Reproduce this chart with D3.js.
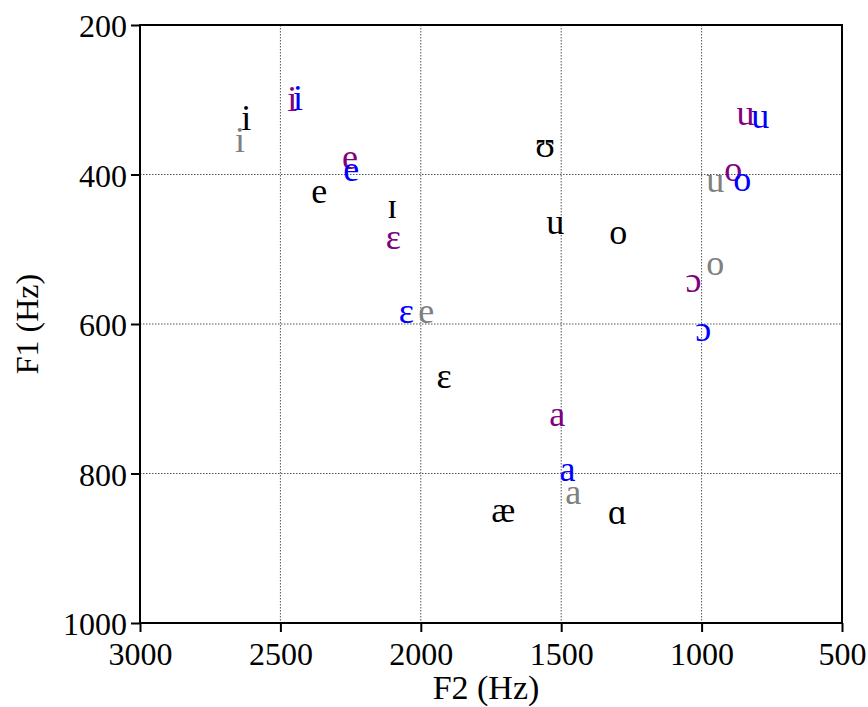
<!DOCTYPE html>
<html>
<head>
<meta charset="utf-8">
<script src="https://cdn.jsdelivr.net/npm/d3@7"></script>
<style>
  body { margin: 0; background: #fff; }
  svg text { font-family: "Liberation Serif", "DejaVu Serif", serif; }
</style>
</head>
<body>
<svg id="chart" width="868" height="707"></svg>
<script>
// ---- data ----
const xTicks = [3000, 2500, 2000, 1500, 1000, 500];
const yTicks = [200, 400, 600, 800, 1000];

const blackVowels = [
  { s: "i", f2: 2622, f1: 330 },
  { s: "e", f2: 2362, f1: 427 },
  { s: "ɪ", f2: 2102, f1: 447 },
  { s: "ʊ", f2: 1557, f1: 365 },
  { s: "u", f2: 1521, f1: 469 },
  { s: "o", f2: 1297, f1: 482 },
  { s: "ɛ", f2: 1917, f1: 675 },
  { s: "æ", f2: 1706, f1: 854 },
  { s: "ɑ", f2: 1300, f1: 857 }
];
const grayVowels = [
  { s: "i", f2: 2644, f1: 359 },
  { s: "e", f2: 1981, f1: 587 },
  { s: "u", f2: 951, f1: 413 },
  { s: "o", f2: 951, f1: 524 },
  { s: "a", f2: 1457, f1: 830 }
];
const purpleVowels = [
  { s: "i", f2: 2458, f1: 304 },
  { s: "e", f2: 2252, f1: 382 },
  { s: "ɛ", f2: 2098, f1: 488 },
  { s: "u", f2: 844, f1: 323 },
  { s: "o", f2: 887, f1: 398 },
  { s: "ɔ", f2: 1029, f1: 546 },
  { s: "a", f2: 1514, f1: 726 }
];
const blueVowels = [
  { s: "i", f2: 2437, f1: 302 },
  { s: "e", f2: 2248, f1: 397 },
  { s: "ɛ", f2: 2052, f1: 587 },
  { s: "u", f2: 791, f1: 327 },
  { s: "o", f2: 855, f1: 411 },
  { s: "ɔ", f2: 994, f1: 611 },
  { s: "a", f2: 1478, f1: 799 }
];

const seriesList = [
  { color: "#000000", data: blackVowels },
  { color: "#808080", data: grayVowels },
  { color: "#800080", data: purpleVowels },
  { color: "#0000ff", data: blueVowels }
];

// ---- layout ----
const svg = d3.select("#chart");
const L = 140, R = 842, T = 25, B = 623;

const x = d3.scaleLinear().domain([3000, 500]).range([L, R]);
const y = d3.scaleLinear().domain([200, 1000]).range([T, B]);

// gridlines
const grid = svg.append("g");
grid.selectAll("line.vx").data(xTicks.filter(d => d !== 3000 && d !== 500)).join("line")
  .attr("x1", d => x(d)).attr("x2", d => x(d)).attr("y1", T).attr("y2", B)
  .attr("stroke", "#555").attr("stroke-width", 1).attr("stroke-dasharray", "1.5,1.5");
grid.selectAll("line.hy").data(yTicks.filter(d => d !== 200 && d !== 1000)).join("line")
  .attr("y1", d => y(d)).attr("y2", d => y(d)).attr("x1", L).attr("x2", R)
  .attr("stroke", "#555").attr("stroke-width", 1).attr("stroke-dasharray", "1.5,1.5");

// frame
svg.append("rect").attr("x", L).attr("y", T).attr("width", R - L).attr("height", B - T)
  .attr("fill", "none").attr("stroke", "#000").attr("stroke-width", 2);

// axes
const xAxis = svg.append("g").attr("transform", `translate(0,${B})`)
  .call(d3.axisBottom(x).tickValues(xTicks).tickSize(9).tickPadding(10).tickFormat(d3.format("d")));
const yAxis = svg.append("g").attr("transform", `translate(${L},0)`)
  .call(d3.axisLeft(y).tickValues(yTicks).tickSize(9).tickPadding(4).tickFormat(d3.format("d")));
[xAxis, yAxis].forEach(a => {
  a.select(".domain").remove();
  a.selectAll(".tick line").attr("stroke", "#000").attr("stroke-width", 2);
  a.selectAll(".tick text").attr("fill", "#000")
    .style("font-family", '"Liberation Serif", serif').style("font-size", "32px");
});
yAxis.selectAll(".tick text").attr("dy", "0.36em");

// axis titles
svg.append("text").attr("x", 486).attr("y", 699).attr("text-anchor", "middle")
  .style("font-size", "34px").text("F2 (Hz)");
svg.append("text").attr("transform", "translate(38,324) rotate(-90)").attr("text-anchor", "middle")
  .style("font-size", "32px").text("F1 (Hz)");

// vowel symbols
seriesList.forEach(sr => {
  svg.append("g").selectAll("text").data(sr.data).join("text")
    .attr("x", d => x(d.f2)).attr("y", d => y(d.f1))
    .attr("dy", "0.23em")
    .attr("text-anchor", "middle")
    .attr("fill", sr.color)
    .style("font-size", "36px")
    .text(d => d.s);
});
</script>
</body>
</html>
